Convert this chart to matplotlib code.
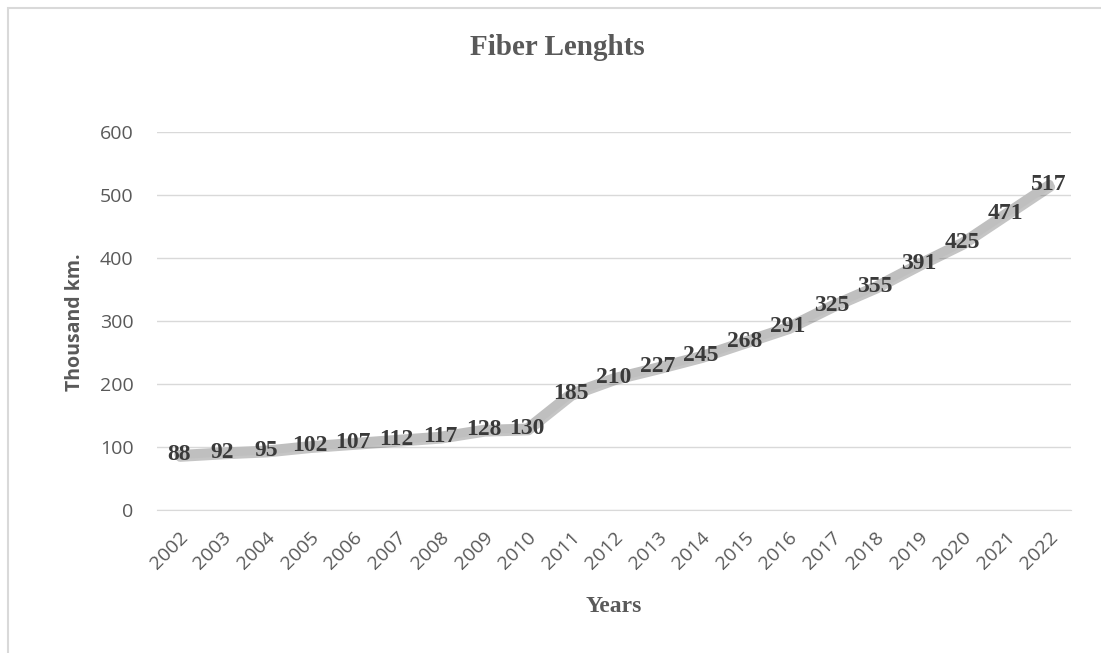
import matplotlib

matplotlib.use("Agg")
import matplotlib.pyplot as plt
import matplotlib.patheffects as pe
from matplotlib.patches import Rectangle

years = [str(y) for y in range(2002, 2023)]
lengths = [88, 92, 95, 102, 107, 112, 117, 128, 130, 185, 210,
           227, 245, 268, 291, 325, 355, 391, 425, 471, 517]
y_ticks = [0, 100, 200, 300, 400, 500, 600]

GRID = "#D9D9D9"
TXT = "#595959"
SERIF = ["Liberation Serif", "DejaVu Serif"]
SANS = ["Open Sans", "DejaVu Sans"]

fig = plt.figure(figsize=(11.01, 6.53), dpi=100)
fig.patches.append(Rectangle((8 / 1101, -0.1), 1.2, 0.1 + 645 / 653,
                             transform=fig.transFigure, fill=False,
                             edgecolor="#D9D9D9", linewidth=1.5))

ax = fig.add_axes([157 / 1101, 143 / 653, 914 / 1101, 378 / 653])
x = list(range(len(years)))
ax.plot(x, lengths, color="#BFBFBF", linewidth=6.5, solid_capstyle="round",
        path_effects=[pe.SimpleLineShadow(offset=(1, -2), shadow_color="#404040", alpha=0.3),
                      pe.Normal()], zorder=3)

for xi, v in zip(x, lengths):
    ax.text(xi, v, str(v), ha="center", va="center", fontsize=17,
            fontweight="bold", color="#3a3a3a", family=SERIF, zorder=4)

ax.set_xlim(-0.5, len(years) - 0.5)
ax.set_ylim(0, 600)
ax.set_yticks(y_ticks)
ax.set_yticklabels([str(t) for t in y_ticks], family=SANS, fontsize=14, color=TXT)
ax.set_xticks(x)
ax.set_xticklabels(years, rotation=45, ha="right", rotation_mode="anchor",
                   family=SANS, fontsize=14, color=TXT)
ax.tick_params(axis="y", length=0, pad=17)
ax.tick_params(axis="x", length=0, pad=13)
ax.grid(axis="y", color=GRID, linewidth=1)
ax.set_axisbelow(True)
for s in ["top", "right", "left"]:
    ax.spines[s].set_visible(False)
ax.spines["bottom"].set_color(GRID)

fig.text(75 / 1101, 1 - 322 / 653, "Thousand km.", ha="center", va="center",
         rotation=90, family=SANS, fontsize=14, fontweight="bold", color=TXT)
# chart title is centred on the whole chart area, axis title on the plot area
fig.text(557 / 1101, 1 - 55 / 653, "Fiber Lenghts", ha="center", va="baseline",
         family=SERIF, fontsize=21, fontweight="bold", color=TXT)
fig.text(614 / 1101, 1 - 612 / 653, "Years", ha="center", va="baseline",
         family=SERIF, fontsize=17, fontweight="bold", color=TXT)

fig.savefig("out.png", dpi=100, facecolor="white")
